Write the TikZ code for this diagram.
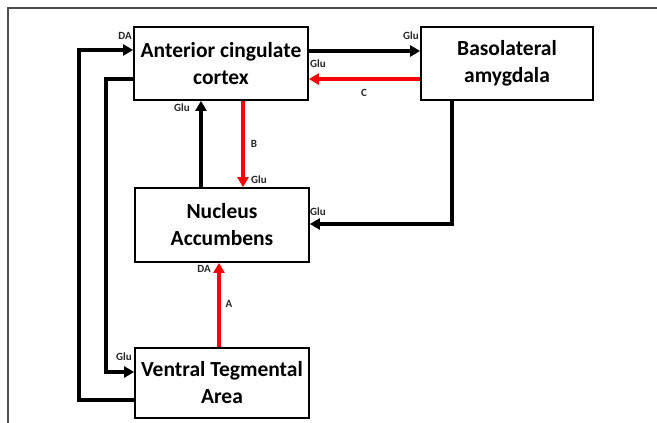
\documentclass[tikz,border=0pt]{standalone}
\usepackage{fontspec}
\setmainfont{Carlito}
\usetikzlibrary{arrows.meta}
\begin{document}
\begin{tikzpicture}[x=1pt,y=-1pt,
  region/.style={draw=black,line width=1.8pt,minimum width=#1,align=center,inner sep=0pt,
    font=\fontsize{21.5}{27}\selectfont\bfseries},
  blk/.style={line width=3.2pt,draw=black,-{Triangle[length=10pt,width=11pt]}},
  redarr/.style={line width=3.2pt,draw=red,-{Triangle[length=10pt,width=11pt]}},
  lbl/.style={font=\fontsize{11}{12}\selectfont\bfseries,inner sep=0pt,text=black!85}]
\useasboundingbox (0,0) rectangle (657,423);
\draw[line width=1.3pt,draw=black!70] (8,423) -- (8,8) -- (657,8);

\node[region=174pt,minimum height=73pt] (acc) at (221,63.5) {Anterior cingulate\\cortex};
\node[region=172pt,minimum height=73pt] (bla) at (507,63.5) {Basolateral\\amygdala};
\node[region=174pt,minimum height=74pt] (nac) at (222,225) {Nucleus\\Accumbens};
\node[region=174pt,minimum height=70pt] (vta) at (222,383) {Ventral Tegmental\\Area};

% ACC <-> BLA
\draw[blk] (acc.east |- 0,51) -- (bla.west |- 0,51);
\draw[redarr] (bla.west |- 0,79) -- (acc.east |- 0,79);
% ACC <-> NAc
\draw[redarr] (acc.south -| 243,0) -- (nac.north -| 243,0);
\draw[blk] (nac.north -| 201,0) -- (acc.south -| 201,0);
% BLA -> NAc
\draw[blk] (bla.south -| 452,0) |- (nac.east |- 0,224);
% VTA -> NAc
\draw[redarr] (vta.north -| 219,0) -- (nac.south -| 219,0);
% VTA -> ACC
\draw[blk] (vta.west |- 0,400) -| (79,50) -- (acc.west |- 0,50);
% ACC -> VTA
\draw[blk] (acc.west |- 0,79) -| (106,372) -- (vta.west |- 0,372);

\node[lbl] (l1) at (125,36) {DA};
\node[lbl] (l2) at (411,36) {Glu};
\node[lbl] (l3) at (318,64) {Glu};
\node[lbl] (l4) at (364,93) {C};
\node[lbl] (l5) at (182,108) {Glu};
\node[lbl] (l6) at (254,144) {B};
\node[lbl] (l7) at (259,180) {Glu};
\node[lbl] (l8) at (318,212) {Glu};
\node[lbl] (l9) at (204,269) {DA};
\node[lbl] (l10) at (229,304) {A};
\node[lbl] (l11) at (124,357) {Glu};
\end{tikzpicture}
\end{document}
